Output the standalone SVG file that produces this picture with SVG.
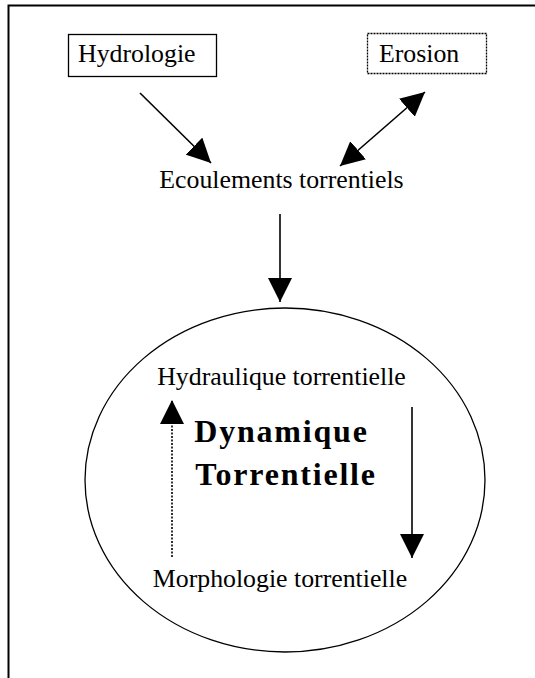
<svg xmlns="http://www.w3.org/2000/svg" width="535" height="678" viewBox="0 0 535 678">
<style>
.t{font-family:"Liberation Serif","Times New Roman",serif;font-size:25.8px;fill:#000}
.b{font-family:"Liberation Serif","Times New Roman",serif;font-size:32px;font-weight:bold;letter-spacing:1.8px;fill:#000}
.ln{stroke:#000;stroke-width:1.6;fill:none}
</style>
<defs>
<marker id="ah" viewBox="0 0 24 24" refX="24" refY="12" markerWidth="24" markerHeight="24" markerUnits="userSpaceOnUse" orient="auto-start-reverse">
<path d="M0,0 L24,12 L0,24 Z" fill="#000"/>
</marker>
</defs>
<rect width="535" height="678" fill="#fff"/>
<g id="frame">
<path d="M8.5,678 V5.5 H535" stroke="#000" stroke-width="2" fill="none"/>
</g>
<g id="hydrologie">
<rect x="68.5" y="34.5" width="148" height="42" fill="#fff" stroke="#000" stroke-width="1.3"/>
<text class="t" x="78" y="62">Hydrologie</text>
</g>
<g id="erosion">
<rect x="367.5" y="33.5" width="119" height="40" fill="#fff" stroke="#000" stroke-width="1.3" stroke-dasharray="2,1"/>
<text class="t" x="379" y="62">Erosion</text>
</g>
<g id="ecoulements">
<text class="t" x="281.5" y="188" text-anchor="middle">Ecoulements torrentiels</text>
</g>
<g id="dynamique">
<ellipse cx="285" cy="480" rx="200" ry="172" fill="none" stroke="#000" stroke-width="1.3"/>
<text class="t" x="281.5" y="385" text-anchor="middle">Hydraulique torrentielle</text>
<text class="b" x="281.5" y="442" text-anchor="middle">Dynamique</text>
<text class="b" x="286" y="485" text-anchor="middle">Torrentielle</text>
<text class="t" x="280" y="587" text-anchor="middle">Morphologie torrentielle</text>
</g>
<g id="connectors">
<line class="ln" x1="140" y1="93" x2="211" y2="163" marker-end="url(#ah)"/>
<line class="ln" x1="425" y1="92" x2="340" y2="166" marker-start="url(#ah)" marker-end="url(#ah)"/>
<line class="ln" x1="280" y1="214" x2="280" y2="302" marker-end="url(#ah)"/>
<line class="ln" x1="172" y1="557" x2="172" y2="400" stroke-dasharray="2,1.5" marker-end="url(#ah)"/>
<line class="ln" x1="412" y1="407" x2="412" y2="558" marker-end="url(#ah)"/>
</g>
</svg>
